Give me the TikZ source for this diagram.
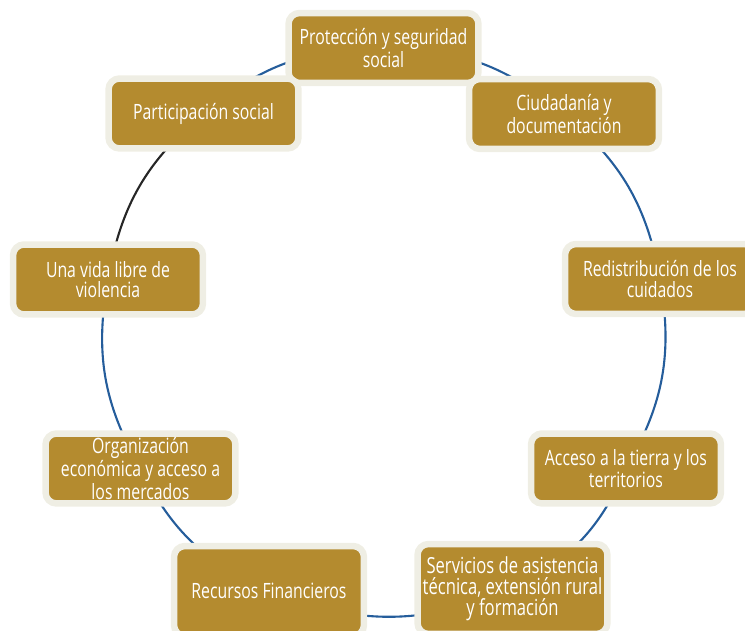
\documentclass[tikz,border=0pt]{standalone}
\usepackage{fontspec}
\setmainfont{Open Sans}[FakeStretch=0.75]
\usepackage{xcolor}
\usepackage{tikz}
\usetikzlibrary{backgrounds}
\definecolor{gold}{HTML}{B48B2F}
\definecolor{cream}{HTML}{EFEEE4}
\definecolor{ringblue}{HTML}{255D9B}

\begin{document}
\begin{tikzpicture}[
  x=0.02cm, y=-0.02cm,
  box/.style={rectangle,rounded corners=2.2mm,fill=gold,draw=cream,line width=1.3mm,
    minimum width=3.8cm,minimum height=1.4cm,inner sep=1pt,align=center,text=white,
    font=\fontsize{12pt}{11.6pt}\selectfont},
  tallbox/.style={box,minimum height=1.8cm},
  ring/.style={ringblue,line width=1.2pt},
  ringdark/.style={ring,draw=black!85}
]
  \useasboundingbox (0,0) rectangle (745,631);

  \node[box] (prot)  at (383.5,48)  {Protección y seguridad\\social};
  \node[box] (ciud)  at (564,114)   {Ciudadanía y\\documentación};
  \node[box] (redis) at (660,279)   {Redistribución de los\\cuidados};
  \node[box] (acc)   at (626,468.5) {Acceso a la tierra y los\\territorios};
  \node[tallbox,font=\fontsize{12.6pt}{12pt}\selectfont] (serv) at (512.5,589)
    {Servicios de asistencia\\técnica, extensión rural\\y formación};
  \node[tallbox] (rec)  at (269,591)   {Recursos Financieros};
  \node[box] (org)   at (140.5,468.5) {Organización\\económica y acceso a\\los mercados};
  \node[box] (vida)  at (108,279.5) {Una vida libre de\\violencia};
  \node[box] (part)  at (203.5,113.5) {Participación social};

  % ring behind the boxes
  \begin{scope}[on background layer]
    \draw[ring] (prot.center) to[bend left=20] (ciud.center);
    \draw[ring] (ciud.center) to[bend left=20] (redis.center);
    \draw[ring] (redis.center) to[bend left=20] (acc.center);
    \draw[ring] (acc.center) to[bend left=20] (serv.center);
    \draw[ring] (serv.center) to[bend left=22] (rec.center);
    \draw[ring] (rec.center) to[bend left=20] (org.center);
    \draw[ring] (org.center) to[bend left=20] (vida.center);
    \draw[ringdark] (vida.center) to[bend left=20] (part.center);
    \draw[ring] (part.center) to[bend left=20] (prot.center);
  \end{scope}
\end{tikzpicture}
\end{document}
